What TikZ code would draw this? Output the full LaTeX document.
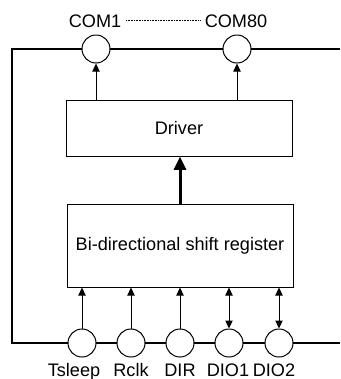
\documentclass[tikz,border=0pt]{standalone}
\usepackage{fontspec}
\setmainfont{Liberation Sans}
\usetikzlibrary{arrows.meta}

\begin{document}
\begin{tikzpicture}[x=0.75pt,y=-0.75pt,
  font=\fontsize{13.6}{16}\selectfont,
  pin/.style={circle, draw, fill=white, line width=0.75pt, minimum size=21pt, inner sep=0pt},
  blk/.style={draw, line width=0.75pt, inner sep=0pt},
  sig/.style={line width=0.75pt, -{Triangle[length=6pt,width=5.5pt]}},
  bisig/.style={line width=0.75pt, {Triangle[length=6pt,width=5.5pt]}-{Triangle[length=6pt,width=5.5pt]}}]
\useasboundingbox (0,0) rectangle (340,379);
% bus frame
\coordinate (TR) at (340,49);
\coordinate (TL) at (12,49);
\coordinate (BL) at (12,343);
\coordinate (BR) at (340,343);
\draw[line width=1.5pt] (TR) -- (TL) -- (BL) -- (BR);
% blocks
\node[blk, minimum width=169.5pt, minimum height=42pt](drv) at (179,128){Driver};
\node[blk, minimum width=169.5pt, minimum height=62.25pt](sreg) at (180,245.5){Bi-directional shift register};
% output pins
\node[pin](com1) at (96,49){};
\node[pin](com80) at (237,49){};
\node[anchor=base](L1) at (95,27){COM1};
\node[anchor=base](L80) at (236,27){COM80};
\draw[line width=0.5pt, dash pattern=on 0.6pt off 0.6pt] (L1.east) -- (L80.west);
% input pins
\node[pin](tsleep) at (82,343){};
\node[pin](rclk) at (131,343){};
\node[pin](dir) at (180,343){};
\node[pin](dio1) at (229,343){};
\node[pin](dio2) at (279,343){};
\node[anchor=base] at (74,376){Tsleep};
\node[anchor=base] at (131,376){Rclk};
\node[anchor=base] at (180,376){DIR};
\node[anchor=base] at (228,376){DIO1};
\node[anchor=base] at (274,376){DIO2};
% signals
\draw[sig] (drv.north -| com1) -- (com1.south);
\draw[sig] (drv.north -| com80) -- (com80.south);
\draw[line width=2.25pt, -{Triangle[length=10pt,width=9pt]}] (sreg.north) -- (sreg.north |- drv.south);
\draw[sig] (tsleep.north) -- (tsleep.north |- sreg.south);
\draw[sig] (rclk.north) -- (rclk.north |- sreg.south);
\draw[sig] (dir.north) -- (dir.north |- sreg.south);
\draw[bisig] (dio1.north) -- (dio1.north |- sreg.south);
\draw[bisig] (dio2.north) -- (dio2.north |- sreg.south);
\end{tikzpicture}
\end{document}
